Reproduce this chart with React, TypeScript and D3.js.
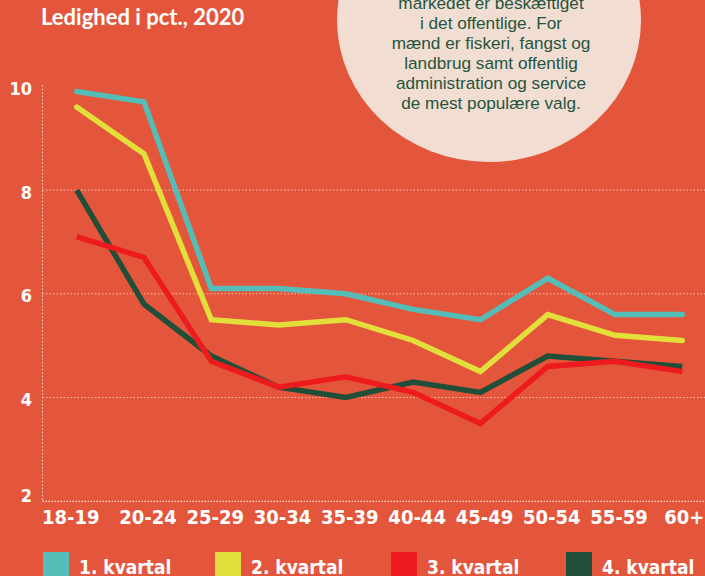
import React from "react";
import * as d3 from "d3";

const categories = ["18-19", "20-24", "25-29", "30-34", "35-39", "40-44", "45-49", "50-54", "55-59", "60+"];
const q1 = [9.9, 9.7, 6.1, 6.1, 6.0, 5.7, 5.5, 6.3, 5.6, 5.6];
const q2 = [9.6, 8.7, 5.5, 5.4, 5.5, 5.1, 4.5, 5.6, 5.2, 5.1];
const q3 = [7.1, 6.7, 4.7, 4.2, 4.4, 4.1, 3.5, 4.6, 4.7, 4.5];
const q4 = [8.0, 5.8, 4.8, 4.2, 4.0, 4.3, 4.1, 4.8, 4.7, 4.6];
const seriesNames = ["1. kvartal", "2. kvartal", "3. kvartal", "4. kvartal"];
const yTicks = [10, 8, 6, 4, 2];
const title = "Ledighed i pct., 2020";
const noteLines = [
  "markedet er beskæftiget",
  "i det offentlige. For",
  "mænd er fiskeri, fangst og",
  "landbrug samt offentlig",
  "administration og service",
  "de mest populære valg.",
];

const W = 705;
const H = 576;
const BG = "#E4563C";
const colors = ["#55BDB7", "#E3DF3A", "#EE1B1E", "#214E38"];
const drawOrder = [0, 1, 3, 2];
const axisFont = "'DejaVu Sans Condensed', 'DejaVu Sans', sans-serif";

export default function App() {
  const x = d3.scalePoint<string>().domain(categories).range([76.7, 682.3]);
  const y = d3.scaleLinear().domain([2, 10]).range([501.3, 86.3]);
  const data = [q1, q2, q3, q4];
  const line = d3
    .line<number>()
    .x((_, i) => x(categories[i]) as number)
    .y((v) => y(v));
  const axisX = 42.5;
  const legendX = [43, 215, 391, 566];

  return (
    <svg width={W} height={H} style={{ position: "absolute", left: 0, top: 0 }}>
      <rect x={0} y={0} width={W} height={H} fill={BG} />
      <ellipse cx={489} cy={20} rx={152} ry={142} fill="#F2DDD3" />
      {noteLines.map((t, i) => (
        <text
          key={i}
          x={491}
          y={9 + i * 19.9}
          textAnchor="middle"
          fill="#24553D"
          fontFamily="'Liberation Sans', Arial, sans-serif"
          fontSize={17.2}
        >
          {t}
        </text>
      ))}
      <text x={41} y={25} fill="#fff" fontFamily="Lato, sans-serif" fontWeight={700} fontSize={22}>
        {title}
      </text>

      {/* grid */}
      {yTicks
        .filter((t) => t !== 2 && t !== 10)
        .map((t) => (
          <line
            key={t}
            x1={axisX}
            x2={W}
            y1={y(t)}
            y2={y(t)}
            stroke="#F6C3B6"
            strokeWidth={1}
            strokeDasharray="1.5 2"
          />
        ))}
      <line x1={axisX} x2={axisX} y1={y(10) - 1} y2={y(2)} stroke="#F6D5CC" strokeWidth={1} strokeDasharray="1.5 2" />
      <line x1={axisX} x2={W} y1={y(2)} y2={y(2)} stroke="#F8E0D8" strokeWidth={1.2} strokeDasharray="1.5 1.5" />

      {yTicks.map((t) => (
        <text
          key={t}
          x={32}
          y={Math.min(y(t) + 2, y(2) - 6)}
          dominantBaseline="central"
          textAnchor="end"
          fill="#fff"
          fontFamily={axisFont}
          fontWeight={700}
          fontSize={18}
        >
          {t}
        </text>
      ))}
      {categories.map((c, i) => (
        <text
          key={c}
          x={(x(c) as number) + (i === 0 ? -6 : i === categories.length - 1 ? 2 : 4)}
          y={524}
          textAnchor="middle"
          fill="#fff"
          fontFamily={axisFont}
          fontWeight={700}
          fontSize={20}
        >
          {c}
        </text>
      ))}

      {drawOrder.map((si) => (
        <path
          key={si}
          d={line(data[si]) as string}
          fill="none"
          stroke={colors[si]}
          strokeWidth={5.5}
          strokeLinejoin="miter"
          strokeLinecap={si < 2 ? "round" : "butt"}
        />
      ))}

      {seriesNames.map((n, i) => (
        <g key={n}>
          <rect x={legendX[i]} y={552} width={26} height={30} fill={colors[i]} />
          <text
            x={legendX[i] + 36}
            y={574}
            fill="#fff"
            fontFamily={axisFont}
            fontWeight={700}
            fontSize={19}
          >
            {n}
          </text>
        </g>
      ))}
    </svg>
  );
}
